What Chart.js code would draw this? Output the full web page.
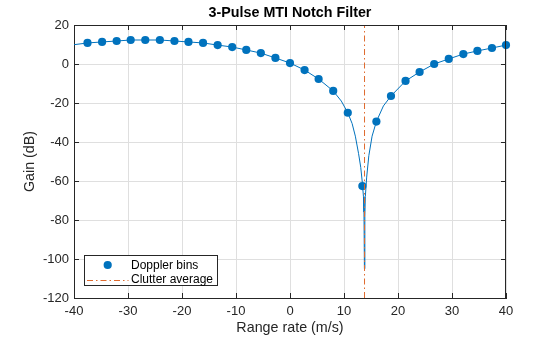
<!DOCTYPE html>
<html>
<head>
<meta charset="utf-8">
<style>
  html, body { margin: 0; padding: 0; background: #ffffff; }
  #wrap { width: 560px; height: 337px; }
</style>
<script src="https://cdn.jsdelivr.net/npm/chart.js@4/dist/chart.umd.min.js"></script>
</head>
<body>
<div id="wrap"><canvas id="c" width="560" height="337"></canvas></div>
<script>
// Doppler bin centres (m/s) and the filter gain at each bin (dB)
const binSpeeds = [-37.5, -34.8, -32.1, -29.5, -26.8, -24.1, -21.4, -18.8, -16.1, -13.4,
                   -10.7, -8.1, -5.4, -2.7, 0.0, 2.7, 5.3, 8.0, 10.7, 13.4,
                   16.0, 18.7, 21.4, 24.0, 26.7, 29.4, 32.1, 34.7, 37.4, 40.0];
const binGains  = [10.8, 11.3, 11.8, 12.3, 12.3, 12.3, 11.8, 11.3, 10.8, 9.7,
                   8.7, 7.2, 5.6, 3.1, 0.5, -3.1, -7.7, -13.8, -25.0, -62.6,
                   -29.5, -16.4, -8.7, -4.1, 0.0, 2.6, 5.1, 6.7, 8.2, 9.7];

// Continuous filter response (m/s, dB), denser around the notch
const curveSpeeds = [-40.0, -37.5, -34.8, -32.1, -29.5, -26.8, -24.1, -21.4, -18.8, -16.1,
                     -13.4, -10.7, -8.1, -5.4, -2.7, 0.0, 2.7, 5.3, 8.0, 9.5,
                     10.7, 11.5, 12.1, 12.7, 13.1, 13.4, 13.6, 13.7, 13.78, 13.86,
                     13.95, 14.2, 14.6, 15.2, 16.0, 17.3, 18.7, 21.4, 24.0, 26.7,
                     29.4, 32.1, 34.7, 37.4, 40.0];
const curveGains  = [9.9, 10.8, 11.3, 11.8, 12.3, 12.3, 12.3, 11.8, 11.3, 10.8,
                     9.7, 8.7, 7.2, 5.6, 3.1, 0.5, -3.1, -7.7, -13.8, -19.0,
                     -25.0, -30.5, -37.0, -46.0, -53.0, -61.0, -68.0, -76.0, -105.0, -78.0,
                     -68.0, -58.0, -47.0, -37.0, -29.5, -21.5, -16.4, -8.7, -4.1, 0.0,
                     2.6, 5.1, 6.7, 8.2, 9.7];

// Mean clutter range rate (m/s)
const clutterSpeed = 13.8;

const xTicks = [-40, -30, -20, -10, 0, 10, 20, 30, 40];
const yTicks = [-120, -100, -80, -60, -40, -20, 0, 20];

const xMin = -40, xMax = 40, yMin = -120, yMax = 20;

const FONT = '"Liberation Sans", Arial, Helvetica, sans-serif';
const AXIS_COLOR = '#262626';
const GRID_COLOR = '#dfdfdf';
const BLUE = '#0072BD';
const ORANGE = '#DF6A2E';
const DASH_DOT = [6, 3, 1.5, 3];
const MARKER_R = 4.1;

const toPoints = (xs, ys) => xs.map((x, i) => ({ x: x, y: ys[i] }));

// Title, axis labels, boxed frame with inward ticks, and legend
const decorations = {
  id: 'decorations',
  afterDraw(chart) {
    const ctx = chart.ctx;
    const a = chart.chartArea;
    const sx = chart.scales.x, sy = chart.scales.y;
    ctx.save();

    // frame: top and right edges
    ctx.strokeStyle = AXIS_COLOR;
    ctx.lineWidth = 1;
    ctx.beginPath();
    ctx.moveTo(a.left, a.top + 0.5); ctx.lineTo(a.right, a.top + 0.5);
    ctx.moveTo(a.right - 0.5, a.top); ctx.lineTo(a.right - 0.5, a.bottom);
    ctx.stroke();

    // inward tick marks on all four sides
    const tl = 5;
    ctx.beginPath();
    xTicks.forEach(v => {
      const px = Math.round(sx.getPixelForValue(v)) + 0.5;
      ctx.moveTo(px, a.bottom); ctx.lineTo(px, a.bottom - tl);
      ctx.moveTo(px, a.top); ctx.lineTo(px, a.top + tl);
    });
    yTicks.forEach(v => {
      const py = Math.round(sy.getPixelForValue(v)) + 0.5;
      ctx.moveTo(a.left, py); ctx.lineTo(a.left + tl, py);
      ctx.moveTo(a.right, py); ctx.lineTo(a.right - tl, py);
    });
    ctx.stroke();

    // chart title
    ctx.fillStyle = '#000000';
    ctx.font = 'bold 14.3px ' + FONT;
    ctx.textAlign = 'center';
    ctx.textBaseline = 'middle';
    ctx.fillText('3-Pulse MTI Notch Filter', (a.left + a.right) / 2, 13);

    // axis titles
    ctx.fillStyle = AXIS_COLOR;
    ctx.font = '14.3px ' + FONT;
    ctx.fillText('Range rate (m/s)', (a.left + a.right) / 2, 328);
    ctx.save();
    ctx.translate(30, (a.top + a.bottom) / 2);
    ctx.rotate(-Math.PI / 2);
    ctx.fillText('Gain (dB)', 0, 0);
    ctx.restore();

    // legend
    const lx = 84.5, ly = 255.5, lw = 133, lh = 30;
    ctx.fillStyle = '#ffffff';
    ctx.fillRect(lx, ly, lw, lh);
    ctx.strokeStyle = AXIS_COLOR;
    ctx.lineWidth = 1;
    ctx.strokeRect(lx, ly, lw, lh);

    ctx.fillStyle = BLUE;
    ctx.beginPath();
    ctx.arc(107.7, 265, MARKER_R, 0, Math.PI * 2);
    ctx.fill();

    ctx.strokeStyle = ORANGE;
    ctx.setLineDash(DASH_DOT);
    ctx.beginPath();
    ctx.moveTo(87, 280.5); ctx.lineTo(128.5, 280.5);
    ctx.stroke();
    ctx.setLineDash([]);

    ctx.fillStyle = '#000000';
    ctx.font = '12px ' + FONT;
    ctx.textAlign = 'left';
    ctx.fillText('Doppler bins', 131, 265.5);
    ctx.fillText('Clutter average', 131, 280);

    ctx.restore();
  }
};

new Chart(document.getElementById('c'), {
  type: 'scatter',
  data: {
    datasets: [
      {
        label: 'Clutter average',
        data: [{ x: clutterSpeed, y: yMin }, { x: clutterSpeed, y: yMax }],
        showLine: true,
        borderColor: ORANGE,
        borderWidth: 1,
        borderDash: DASH_DOT,
        pointRadius: 0,
        order: 0
      },
      {
        label: 'Doppler bins',
        data: toPoints(binSpeeds, binGains),
        showLine: false,
        pointRadius: MARKER_R,
        pointBackgroundColor: BLUE,
        pointBorderColor: BLUE,
        pointBorderWidth: 0,
        clip: false,
        order: 1
      },
      {
        label: 'Response',
        data: toPoints(curveSpeeds, curveGains),
        showLine: true,
        borderColor: BLUE,
        borderWidth: 1,
        pointRadius: 0,
        tension: 0,
        order: 2
      }
    ]
  },
  options: {
    responsive: false,
    animation: false,
    devicePixelRatio: 1,
    layout: { padding: { top: 25, right: 54, left: 0, bottom: 0 } },
    plugins: {
      legend: { display: false },
      title: { display: false },
      tooltip: { enabled: false }
    },
    scales: {
      x: {
        type: 'linear',
        min: xMin,
        max: xMax,
        afterBuildTicks: s => { s.ticks = xTicks.map(v => ({ value: v })); },
        afterFit: s => { s.height = 39; },
        grid: { color: GRID_COLOR, drawTicks: false, lineWidth: 1 },
        border: { display: true, color: AXIS_COLOR, width: 1 },
        ticks: { color: AXIS_COLOR, font: { family: FONT, size: 13 }, padding: 6, maxRotation: 0 }
      },
      y: {
        type: 'linear',
        min: yMin,
        max: yMax,
        afterBuildTicks: s => { s.ticks = yTicks.map(v => ({ value: v })); },
        afterFit: s => { s.width = 74; },
        grid: { color: GRID_COLOR, drawTicks: false, lineWidth: 1 },
        border: { display: true, color: AXIS_COLOR, width: 1 },
        ticks: { color: AXIS_COLOR, font: { family: FONT, size: 13 }, padding: 5 }
      }
    }
  },
  plugins: [decorations]
});
</script>
</body>
</html>
